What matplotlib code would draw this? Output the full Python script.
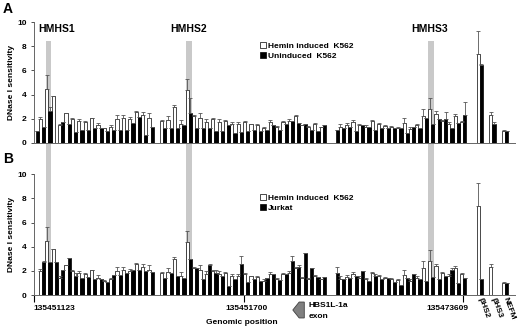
import numpy as np
import matplotlib
matplotlib.use("Agg")
import matplotlib.pyplot as plt
from matplotlib.transforms import blended_transform_factory
from matplotlib.patches import Rectangle, Polygon

plt.rcParams['font.family'] = ['Liberation Sans', 'DejaVu Sans']
plt.rcParams['font.weight'] = 'bold'

nan = np.nan

# three blocks of amplicons along the locus (hemin series is shared by both panels)
hemin_1 = [nan, 1.95, 4.45, 3.85, 1.45, 2.45, 2.0, 1.8, 1.7, 2.05, 1.45, 1.2, 1.35, 1.95, 2.05, 1.95, 2.55, 2.3, 2.1]
uninduced_1 = [0.95, 1.3, 2.65, nan, 1.75, 1.6, 0.9, 1.1, 1.05, 1.2, 1.2, 1.0, 1.05, 1.05, 1.05, 1.65, 2.15, 0.65, 1.3]
jurkat_1 = [nan, 2.7, 2.75, 2.75, 2.05, 3.05, 1.6, 1.4, 1.5, 1.3, 1.3, 1.1, 1.65, 1.65, 1.85, 2.1, 2.05, 2.0, 1.9]

hemin_2 = [1.85, 1.9, 3.0, 1.6, 4.4, 2.25, 2.1, 1.7, 1.95, 1.75, 1.8, 1.6, 1.6, 1.7, 1.55, 1.5, 1.2, 1.7, 1.35, 1.75, 1.8, 2.25, 1.45, 1.3, 1.6, 1.3]
uninduced_2 = [1.2, 1.2, 1.25, 1.45, 2.5, 1.25, 1.2, 1.25, 1.0, 1.0, 1.5, 0.8, 0.9, 1.0, 1.1, 0.95, 1.05, 1.45, 1.05, 1.55, 1.85, 1.65, 1.6, 1.1, 1.0, 1.5]
jurkat_2 = [1.45, 1.8, 1.6, 1.45, 2.95, 2.2, 1.3, 2.45, 1.85, 1.55, 0.75, 1.35, 2.55, 1.1, 1.35, 1.15, 1.4, 1.7, 1.25, 1.7, 2.85, 2.35, 3.45, 2.25, 1.5, 1.5]

hemin_3 = [nan, 1.35, 1.5, 1.7, 1.45, 1.35, 1.8, 1.6, 1.4, 1.35, 1.25, 1.65, 1.15, 1.45, 2.2, 2.8, 2.4, 1.8, 1.6, 2.2, 1.75]
uninduced_3 = [1.1, 1.25, 1.35, 1.0, 1.45, 1.3, 1.05, 1.2, 1.2, 1.2, 1.2, 0.85, 1.3, 1.2, 2.05, 1.6, 1.95, 1.95, 1.25, 1.65, 2.3]
jurkat_3 = [1.85, 1.3, 1.4, 1.55, 2.0, 1.2, 1.6, 1.3, 1.4, 1.05, 0.85, 1.4, 1.75, 1.3, 1.2, 1.5, 1.3, 1.6, 2.1, 1.0, 1.4]

# upper error bars
hemin_err_1 = [nan, 0.2, 1.2, 0, 0.15, 0.05, 0.1, 0.2, 0.1, 0.05, 0.2, 0.05, 0.1, 0.35, 0.3, 0.2, 0.1, 0.25, 0.35]
hemin_err_2 = [0.05, 0.35, 0.15, 0.3, 0.9, 0.05, 0.4, 0.3, 0.1, 0.25, 0.1, 0.1, 0.1, 0.1, 0.05, 0.05, 0.1, 0.2, 0.05, 0.1, 0.2, 0.05, 0.05, 0.1, 0.05, 0.05]
hemin_err_3 = [nan, 0.25, 0.15, 0.2, 0.1, 0.1, 0.1, 0.05, 0.1, 0.05, 0.05, 0.45, 0.15, 0.1, 0.6, 0.9, 0.2, 0.1, 0.1, 0.2, 0.1]
uninduced_err_1 = [0, 0, 0.35, 0, 0, 0, 0, 0, 0, 0, 0, 0, 0, 0, 0, 0, 0, 0, 0]
uninduced_err_2 = [0, 0, 0, 0, 1.2, 0, 0, 0, 0, 0, 0, 0, 0, 0, 0, 0, 0, 0, 0, 0, 0, 0, 0, 0, 0, 0]
uninduced_err_3 = [0, 0, 0, 0, 0, 0, 0, 0, 0, 0, 0, 0, 0, 0, 0, 0, 0, 0.6, 0, 0, 1.05]
jurkat_err_1 = [0, 0.1, 0, 0, 0.05, 0.05, 0.2, 0, 0, 0, 0, 0, 0, 0, 0, 0, 0, 0, 0]
jurkat_err_2 = [0, 0, 0, 0, 0, 0, 0, 0.1, 0.2, 0, 0, 0, 0.65, 0, 0, 0, 0, 0, 0, 0, 0.35, 0.1, 0, 0, 0, 0]
jurkat_err_3 = [0.5, 0, 0, 0, 0, 0, 0.15, 0, 0, 0, 0, 0, 0, 0, 0, 0, 0, 0, 0.1, 0, 0]

controls = ['βHS2', 'βHS3', 'NEFM']
hemin_ctrl = [7.4, 2.3, 1.0]
uninduced_ctrl = [6.45, 1.6, 1.0]
jurkat_ctrl = [1.3, nan, 1.0]
hemin_ctrl_err = [1.85, 0.25, 0.05]
uninduced_ctrl_err = [0.1, 0.1, 0]
jurkat_ctrl_err = [0, 0, 0]

hmhs_names = ['HMHS1', 'HMHS2', 'HMHS3']
position_labels = ['135451123', '135451700', '135473609']

# layout (in amplicon-pair units)
block_start = [0, 20, 47]
ctrl_start, ctrl_step = 69.6, 2.0
hmhs_pair = [2, 24, 62]
hmhs_text_x = [3.8, 24.5, 62.2]
pos_tick_x = [0.2, 33.1, 67.5]
pos_text_x = [0.2, 33.6, 65.1]
xlim = (0.2, 75.6)


def build(blocks, ctrl):
    return np.concatenate([np.asarray(b, float) for b in blocks] + [np.asarray(ctrl, float)])


x = np.concatenate([s + np.arange(len(b)) for s, b in zip(block_start, [hemin_1, hemin_2, hemin_3])]
                   + [ctrl_start + ctrl_step * np.arange(len(controls))])
hemin = build([hemin_1, hemin_2, hemin_3], hemin_ctrl)
hemin_err = build([hemin_err_1, hemin_err_2, hemin_err_3], hemin_ctrl_err)
uninduced = build([uninduced_1, uninduced_2, uninduced_3], uninduced_ctrl)
uninduced_err = build([uninduced_err_1, uninduced_err_2, uninduced_err_3], uninduced_ctrl_err)
jurkat = build([jurkat_1, jurkat_2, jurkat_3], jurkat_ctrl)
jurkat_err = build([jurkat_err_1, jurkat_err_2, jurkat_err_3], jurkat_ctrl_err)

fig = plt.figure(figsize=(5.2, 3.3), dpi=100)
axA = fig.add_axes([0.065, 0.567, 0.925, 0.366])
axB = fig.add_axes([0.065, 0.106, 0.925, 0.366])

ek = dict(ecolor='#555555', elinewidth=0.6, capsize=1.2, capthick=0.6)


def panel(ax, other, other_err, other_label):
    zero = np.zeros_like(hemin)
    ax.bar(x, hemin, 0.5, align='edge', color='white', edgecolor='black', linewidth=0.5,
           yerr=[zero, hemin_err], error_kw=ek, label='Hemin induced  K562')
    ax.bar(x + 0.5, other, 0.5, align='edge', color='black', edgecolor='black', linewidth=0.5,
           yerr=[zero, other_err], error_kw=ek, label=other_label)
    ax.set_xlim(*xlim)
    ax.set_ylim(0, 10)
    ax.set_yticks(range(0, 11, 2))
    ax.tick_params(axis='y', labelsize=6, length=2, width=0.6, pad=3, colors='#333333')
    ax.tick_params(axis='y', labelcolor='black')
    for s in ['top', 'right']:
        ax.spines[s].set_visible(False)
    for s in ['left', 'bottom']:
        ax.spines[s].set_color('#666666')
        ax.spines[s].set_linewidth(0.7)
    ax.set_ylabel('DNase I sensitivity', fontsize=6, fontweight='bold', labelpad=2)
    ax.patch.set_visible(False)
    leg = ax.legend(loc='upper left', bbox_to_anchor=(0.5, ax.get_position().y1 - 0.06),
                    bbox_transform=fig.transFigure, frameon=False, fontsize=6,
                    handlelength=0.7, handleheight=0.7, handletextpad=0.3,
                    labelspacing=0.25, borderpad=0, borderaxespad=0)
    for t in leg.get_texts():
        t.set_fontweight('bold')


panel(axA, uninduced, uninduced_err, 'Uninduced  K562')
panel(axB, jurkat, jurkat_err, 'Jurkat')
axA.set_xticks([])
axB.set_xticks(pos_tick_x)
axB.set_xticklabels([])
axB.tick_params(axis='x', length=5, width=0.8, colors='black')

# grey bands spanning both panels
tr = blended_transform_factory(axA.transData, fig.transFigure)
y_bot = axB.get_position().y0
y_top = axA.get_position().y0 + 0.84 * axA.get_position().height
for k in hmhs_pair:
    fig.add_artist(Rectangle((k + 0.05, y_bot), 0.9, y_top - y_bot, transform=tr,
                             facecolor='#c9c9c9', edgecolor='none', zorder=-1))

for name, xt in zip(hmhs_names, hmhs_text_x):
    axA.text(xt, 9.4, name, ha='center', va='center', fontsize=7.5, fontweight='bold')

trB = blended_transform_factory(axB.transData, axB.transAxes)
for lab, xt, ha in zip(position_labels, pos_text_x, ['left', 'center', 'center']):
    axB.text(xt, -0.115, lab, transform=trB, ha=ha, va='center', fontsize=6, fontweight='bold')
axB.text(32.8, -0.23, 'Genomic position', transform=trB, ha='center', va='center',
         fontsize=6, fontweight='bold')

# HBS1L-1a exon arrow
axB.add_patch(Polygon([(40.8, -0.124), (41.8, -0.058), (42.6, -0.058), (42.6, -0.19), (41.8, -0.19)],
                      closed=True, transform=trB, clip_on=False, facecolor='#808080',
                      edgecolor='#404040', linewidth=0.6))
axB.text(43.3, -0.09, 'HBS1L-1a', transform=trB, ha='left', va='center', fontsize=6, fontweight='bold')
axB.text(43.3, -0.18, 'exon', transform=trB, ha='left', va='center', fontsize=6, fontweight='bold')

for i, name in enumerate(controls):
    xc = ctrl_start + ctrl_step * i + 0.5
    axB.text(xc, -0.02, name, transform=trB, ha='left', va='center', rotation=-70,
             rotation_mode='anchor', fontsize=6, fontweight='bold')

fig.text(0.006, 0.995, 'A', ha='left', va='top', fontsize=10, fontweight='bold')
fig.text(0.006, 0.54, 'B', ha='left', va='top', fontsize=10, fontweight='bold')

fig.savefig('out.png', dpi=100, facecolor='white')
